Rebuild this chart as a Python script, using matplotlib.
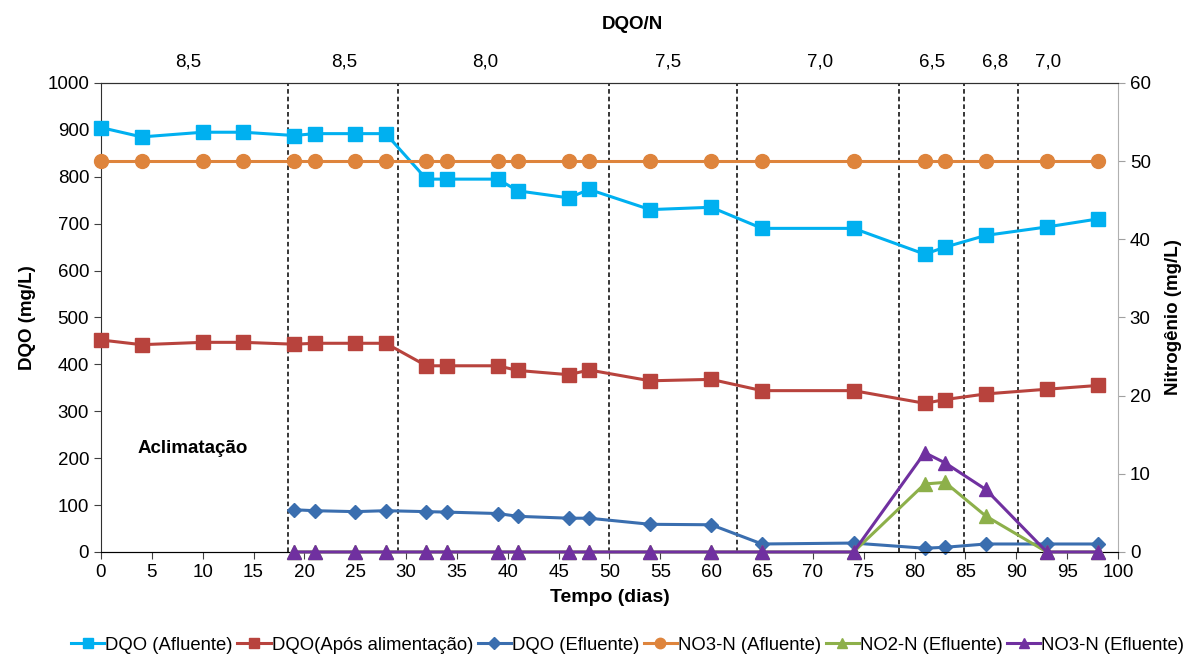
import matplotlib
matplotlib.use("Agg")
import matplotlib.pyplot as plt

plt.rcParams['font.family'] = ['Liberation Sans', 'DejaVu Sans']

# dias de amostragem
dias = [0, 4, 10, 14, 19, 21, 25, 28, 32, 34, 39, 41, 46, 48, 54, 60, 65, 74, 81, 83, 87, 93, 98]
dqo_afluente = [905, 885, 895, 895, 888, 892, 892, 892, 795, 795, 795, 770, 755, 773,
                730, 735, 690, 690, 635, 650, 675, 693, 710]
dqo_apos_alim = [452, 442, 447, 447, 443, 445, 445, 445, 397, 397, 397, 387, 378, 388,
                 365, 368, 344, 344, 317, 325, 337, 347, 355]
no3_afluente = [50] * len(dias)

dias_efl = [19, 21, 25, 28, 32, 34, 39, 41, 46, 48, 54, 60, 65, 74, 81, 83, 87, 93, 98]
dqo_efluente = [90, 88, 86, 88, 86, 85, 82, 76, 72, 72, 59, 58, 17, 19, 8, 10, 17, 17, 17]
no2_efluente = [0, 0, 0, 0, 0, 0, 0, 0, 0, 0, 0, 0, 0, 0, 8.7, 8.9, 4.6, 0, 0]
no3_efluente = [0, 0, 0, 0, 0, 0, 0, 0, 0, 0, 0, 0, 0, 0, 12.7, 11.4, 8.0, 0, 0]

# divisoes de fase e relacao DQO/N
fases = [18.4, 29.2, 50.0, 62.5, 78.5, 84.9, 90.2]
dqo_n_pos = [8.6, 23.9, 37.8, 55.8, 70.7, 81.7, 87.9, 93.1]
dqo_n_txt = ['8,5', '8,5', '8,0', '7,5', '7,0', '6,5', '6,8', '7,0']

fig = plt.figure(figsize=(11.98, 6.55), dpi=100)
ax = fig.add_axes([0.0843, 0.1573, 0.8489, 0.716])
ax2 = ax.twinx()

lw = 2.2
l1, = ax.plot(dias, dqo_afluente, color='#00B0F0', lw=lw, marker='s', ms=10,
              label='DQO (Afluente)', zorder=3, clip_on=False)
l2, = ax.plot(dias, dqo_apos_alim, color='#B8433D', lw=lw, marker='s', ms=10,
              label='DQO(Após alimentação)', zorder=3, clip_on=False)
l3, = ax.plot(dias_efl, dqo_efluente, color='#3A6EAF', lw=lw, marker='D', ms=7.5,
              label='DQO (Efluente)', zorder=3, clip_on=False)
l4, = ax2.plot(dias, no3_afluente, color='#DE843C', lw=lw, marker='o', ms=10,
               label='NO3-N (Afluente)', zorder=3, clip_on=False)
l5, = ax2.plot(dias_efl, no2_efluente, color='#8DB04A', lw=lw, marker='^', ms=10,
               label='NO2-N (Efluente)', zorder=3, clip_on=False)
l6, = ax2.plot(dias_efl, no3_efluente, color='#7030A0', lw=lw, marker='^', ms=10,
               label='NO3-N (Efluente)', zorder=4, clip_on=False)

for f in fases:
    ax.axvline(f, color='black', ls=(0, (3, 2)), lw=1.1, zorder=2)

ax.set_xlim(0, 100)
ax.set_ylim(0, 1000)
ax2.set_ylim(0, 60)
ax.set_xticks(range(0, 101, 5))
ax.set_yticks(range(0, 1001, 100))
ax2.set_yticks(range(0, 61, 10))

ax.tick_params(labelsize=13.5, direction='out', length=5, color='#404040')
ax2.tick_params(labelsize=13.5, direction='out', length=5, color='#A0A0A0')
ax.spines['right'].set_visible(False)
ax2.spines['left'].set_visible(False)
ax2.spines['right'].set_color('#B0B0B0')
for s in ['left', 'bottom', 'top']:
    ax.spines[s].set_color('#303030')
ax2.spines['top'].set_color('#303030')

ax.set_xlabel('Tempo (dias)', fontsize=14, fontweight='bold', labelpad=6)
ax.set_ylabel('DQO (mg/L)', fontsize=13.5, fontweight='bold', labelpad=8)
ax2.set_ylabel('Nitrogênio (mg/L)', fontsize=13.5, fontweight='bold', labelpad=10)

ax.text(3.6, 220, 'Aclimatação', fontsize=13.5, fontweight='bold', va='center', ha='left')

for p, t in zip(dqo_n_pos, dqo_n_txt):
    ax.text(p, 1045, t, fontsize=13.5, ha='center', va='center')
fig.text(0.528, 0.962, 'DQO/N', fontsize=13.5, fontweight='bold', ha='center', va='center')

fig.legend(handles=[l1, l2, l3, l4, l5, l6], loc='center', bbox_to_anchor=(0.524, 0.015),
           ncol=6, frameon=False, fontsize=13.3, handlelength=1.8, handletextpad=0.05,
           columnspacing=0.25, markerscale=0.75)

fig.savefig('out.png', dpi=100)
